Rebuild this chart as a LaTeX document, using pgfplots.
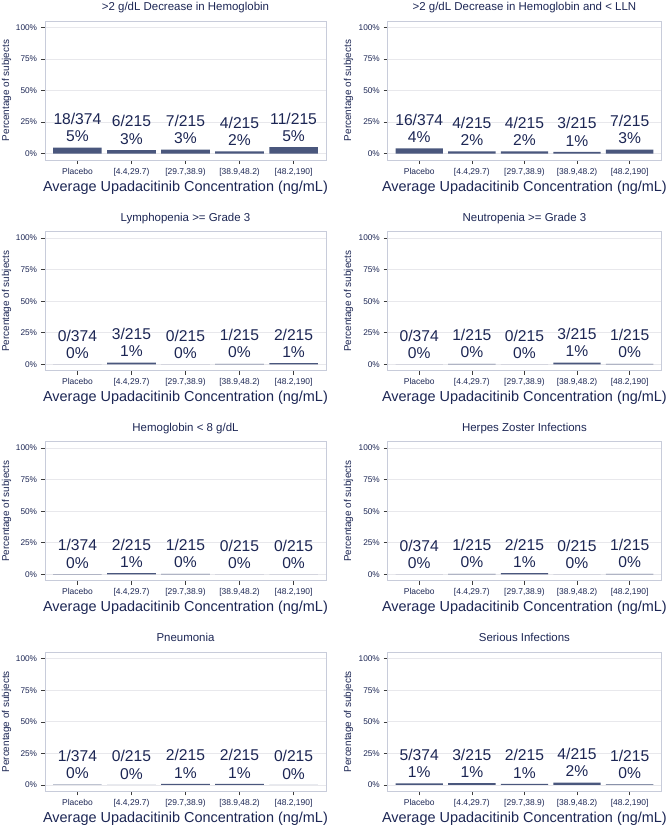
\documentclass[border=0pt]{standalone}
\usepackage{pgfplots}
\pgfplotsset{compat=1.18}
\usepackage{fontspec}
\setmainfont{Liberation Sans}
\definecolor{barc}{RGB}{74,87,125}
\definecolor{txt}{RGB}{28,38,84}
\definecolor{gridc}{RGB}{232,232,236}
\definecolor{borderc}{RGB}{200,204,218}
\definecolor{tickc}{RGB}{60,60,60}

\pgfplotsset{
  panel/.style={
    scale only axis, height=139bp, anchor=north west,
    xmin=-0.6, xmax=4.6, ymin=-5, ymax=105,
    xtick={0,1,2,3,4},
    xticklabels={Placebo,{[4.4,29.7)},{[29.7,38.9)},{[38.9,48.2)},{[48.2,190]}},
    ytick={0,25,50,75,100},
    yticklabels={0\%,25\%,50\%,75\%,100\%},
    ymajorgrids, major grid style={gridc, line width=0.7bp},
    axis line style={borderc, line width=0.8bp},
    tick align=outside, major tick length=4bp,
    tick style={tickc, line width=0.6bp},
    tick pos=left,
    xticklabel style={font=\fontsize{8.5}{10}\selectfont, text=txt, anchor=base, inner sep=0pt, yshift=-10bp},
    yticklabel style={font=\fontsize{8.3}{10}\selectfont, text=txt, anchor=east, inner sep=0pt, xshift=-3.7bp},
    xlabel={Average Upadacitinib Concentration (ng/mL)},
    ylabel={Percentage of subjects},
    xlabel style={font=\fontsize{14.5}{16}\selectfont, text=txt, at={(axis description cs:0.5,0)}, anchor=base, yshift=-31bp},
    title style={font=\fontsize{11.5}{13}\selectfont, text=txt, at={(axis description cs:0.5,1)}, anchor=base, yshift=4.5bp},
    ybar, bar width=0.9,
    cycle list={{fill=barc, draw=none}},
    point meta=explicit symbolic, nodes near coords,
    nodes near coords style={font=\fontsize{15.7}{17.4}\selectfont, text=txt, align=center, anchor=south, inner sep=0pt, yshift=5.5bp},
  },
  leftcol/.style={panel, width=281bp,
    ylabel style={font=\fontsize{10}{12}\selectfont, text=txt, at={([xshift=-38.5bp]axis description cs:0,0.5)}, anchor=center}},
  rightcol/.style={panel, width=273.5bp,
    ylabel style={font=\fontsize{10}{12}\selectfont, text=txt, at={([xshift=-39.2bp]axis description cs:0,0.5)}, anchor=center}},
}

\begin{document}
\begin{tikzpicture}
\useasboundingbox (0,0) rectangle (672bp,-827bp);

% Row 1
\begin{axis}[leftcol, at={(45bp,-21bp)}, title={>2 g/dL Decrease in Hemoglobin}]
\addplot[fill=barc, draw=none] coordinates {(0,4.813) [{18/374\\5\%}] (1,2.791) [{6/215\\3\%}] (2,3.256) [{7/215\\3\%}] (3,1.860) [{4/215\\2\%}] (4,5.116) [{11/215\\5\%}]};
\end{axis}
\begin{axis}[rightcol, at={(387.7bp,-21bp)}, title={>2 g/dL Decrease in Hemoglobin and < LLN}]
\addplot[fill=barc, draw=none] coordinates {(0,4.278) [{16/374\\4\%}] (1,1.860) [{4/215\\2\%}] (2,1.860) [{4/215\\2\%}] (3,1.395) [{3/215\\1\%}] (4,3.256) [{7/215\\3\%}]};
\end{axis}

% Row 2
\begin{axis}[leftcol, at={(45bp,-231.7bp)}, title={Lymphopenia >= Grade 3}]
\addplot[fill=barc, draw=none] coordinates {(0,0) [{0/374\\0\%}] (1,1.395) [{3/215\\1\%}] (2,0) [{0/215\\0\%}] (3,0.465) [{1/215\\0\%}] (4,0.930) [{2/215\\1\%}]};
\end{axis}
\begin{axis}[rightcol, at={(387.7bp,-231.7bp)}, title={Neutropenia >= Grade 3}]
\addplot[fill=barc, draw=none] coordinates {(0,0) [{0/374\\0\%}] (1,0.465) [{1/215\\0\%}] (2,0) [{0/215\\0\%}] (3,1.395) [{3/215\\1\%}] (4,0.465) [{1/215\\0\%}]};
\end{axis}

% Row 3
\begin{axis}[leftcol, at={(45bp,-441.7bp)}, title={Hemoglobin < 8 g/dL}]
\addplot[fill=barc, draw=none] coordinates {(0,0.267) [{1/374\\0\%}] (1,0.930) [{2/215\\1\%}] (2,0.465) [{1/215\\0\%}] (3,0) [{0/215\\0\%}] (4,0) [{0/215\\0\%}]};
\end{axis}
\begin{axis}[rightcol, at={(387.7bp,-441.7bp)}, title={Herpes Zoster Infections}]
\addplot[fill=barc, draw=none] coordinates {(0,0) [{0/374\\0\%}] (1,0.465) [{1/215\\0\%}] (2,0.930) [{2/215\\1\%}] (3,0) [{0/215\\0\%}] (4,0.465) [{1/215\\0\%}]};
\end{axis}

% Row 4
\begin{axis}[leftcol, at={(45bp,-652.3bp)}, title={Pneumonia}]
\addplot[fill=barc, draw=none] coordinates {(0,0.267) [{1/374\\0\%}] (1,0) [{0/215\\0\%}] (2,0.930) [{2/215\\1\%}] (3,0.930) [{2/215\\1\%}] (4,0) [{0/215\\0\%}]};
\end{axis}
\begin{axis}[rightcol, at={(387.7bp,-652.3bp)}, title={Serious Infections}]
\addplot[fill=barc, draw=none] coordinates {(0,1.337) [{5/374\\1\%}] (1,1.395) [{3/215\\1\%}] (2,0.930) [{2/215\\1\%}] (3,1.860) [{4/215\\2\%}] (4,0.465) [{1/215\\0\%}]};
\end{axis}
\end{tikzpicture}
\end{document}
